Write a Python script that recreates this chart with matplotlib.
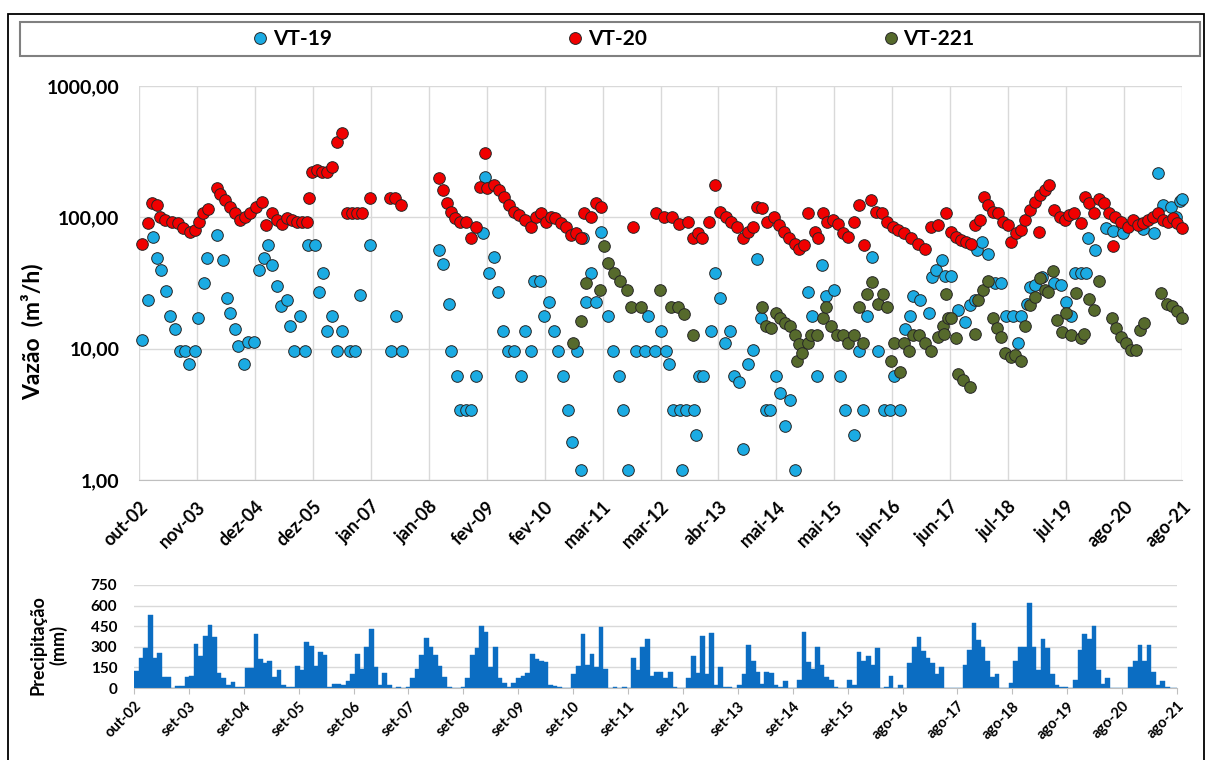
import pandas as pd
import matplotlib
matplotlib.use("Agg")
import matplotlib.pyplot as plt
import matplotlib.dates as mdates
from matplotlib.lines import Line2D
from matplotlib.patches import Rectangle
from matplotlib.ticker import NullLocator

plt.rcParams['font.family'] = ['Lato', 'DejaVu Sans']
plt.rcParams['font.weight'] = 'bold'

## data

# VT-19
vt19_dates = [
    "2002-11-21", "2002-12-27", "2003-01-30", "2003-02-24", "2003-03-24", "2003-04-27", "2003-05-21", "2003-06-24", "2003-07-27", "2003-08-30",
    "2003-09-24", "2003-11-03", "2003-11-21", "2003-12-30", "2004-01-21", "2004-03-24", "2004-05-03", "2004-05-30", "2004-06-21", "2004-07-21",
    "2004-08-15", "2004-09-18", "2004-10-18", "2004-11-24", "2004-12-27", "2005-01-30", "2005-02-27", "2005-03-27", "2005-04-27", "2005-05-24",
    "2005-06-30", "2005-07-21", "2005-08-15", "2005-09-24", "2005-10-30", "2005-11-15", "2005-12-30", "2006-01-27", "2006-02-24", "2006-03-21",
    "2006-04-24", "2006-05-27", "2006-06-30", "2006-08-18", "2006-09-24", "2006-10-24", "2006-12-30", "2007-05-21", "2007-06-21", "2007-07-30",
    "2008-03-27", "2008-04-27", "2008-06-03", "2008-06-18", "2008-07-24", "2008-08-18", "2008-09-21", "2008-10-24", "2008-11-27", "2009-01-12",
    "2009-01-30", "2009-02-24", "2009-03-27", "2009-04-24", "2009-05-27", "2009-06-27", "2009-08-06", "2009-09-24", "2009-10-21", "2009-11-27",
    "2009-12-15", "2010-01-24", "2010-02-21", "2010-03-24", "2010-04-27", "2010-05-24", "2010-06-27", "2010-07-27", "2010-08-24", "2010-09-24",
    "2010-10-21", "2010-11-03", "2010-11-24", "2010-12-27", "2011-01-30", "2011-02-28", "2011-04-21", "2011-05-24", "2011-06-27", "2011-07-24",
    "2011-08-30", "2011-10-18", "2011-12-15", "2012-01-06", "2012-02-21", "2012-04-03", "2012-05-06", "2012-05-24", "2012-06-18", "2012-08-03",
    "2012-08-18", "2012-09-15", "2012-11-03", "2012-11-18", "2012-12-06", "2013-01-03", "2013-02-27", "2013-03-21", "2013-04-27", "2013-05-27",
    "2013-07-03", "2013-07-27", "2013-08-27", "2013-09-21", "2013-10-24", "2013-11-27", "2013-12-27", "2014-01-21", "2014-02-24", "2014-03-24",
    "2014-04-27", "2014-05-27", "2014-06-27", "2014-07-30", "2014-09-03", "2014-11-24", "2014-12-21", "2015-01-24", "2015-02-27", "2015-03-24",
    "2015-05-18", "2015-06-27", "2015-07-27", "2015-09-24", "2015-10-30", "2015-11-21", "2015-12-18", "2016-01-21", "2016-02-29", "2016-04-09",
    "2016-05-21", "2016-06-18", "2016-07-27", "2016-08-24", "2016-09-27", "2016-10-18", "2016-12-03", "2017-01-30", "2017-02-18", "2017-03-21",
    "2017-04-27", "2017-05-15", "2017-06-27", "2017-08-12", "2017-09-24", "2017-10-27", "2017-11-30", "2017-12-12", "2018-01-15", "2018-02-27",
    "2018-04-09", "2018-05-21", "2018-06-27", "2018-08-09", "2018-09-09", "2018-10-03", "2018-11-06", "2018-11-27", "2018-12-30", "2019-02-15",
    "2019-05-09", "2019-06-24", "2019-07-24", "2019-08-27", "2019-09-21", "2019-11-03", "2019-12-06", "2019-12-15", "2020-01-30", "2020-04-15",
    "2020-05-30", "2020-08-06", "2020-10-30", "2020-12-15", "2021-02-21", "2021-03-21", "2021-04-24", "2021-06-18", "2021-07-21", "2021-08-12",
    "2021-08-26",
]
vt19_vals = [
    11.7, 23.5, 71, 49, 40, 27.7, 17.7, 14, 9.6, 9.6,
    7.7, 9.6, 17, 31.5, 49, 74, 47, 24.5, 18.8, 14,
    10.4, 7.7, 11.3, 11.3, 40, 49, 62, 43, 30, 21,
    23.5, 15, 9.6, 17.7, 9.6, 62, 62, 27, 38, 13.6,
    17.7, 9.6, 13.6, 9.6, 9.6, 25.5, 62, 9.6, 17.7, 9.6,
    56.5, 44, 22, 9.6, 6.2, 3.4, 3.4, 3.4, 6.2, 76,
    202, 38, 49.6, 27, 13.6, 9.6, 9.6, 6.2, 13.6, 9.6,
    33, 33, 17.7, 22.5, 13.6, 9.6, 6.2, 3.4, 1.96, 9.6,
    1.19, 69, 22.5, 38, 22.5, 77, 17.7, 9.6, 6.2, 3.4,
    1.19, 9.6, 9.6, 17.7, 9.6, 13.6, 9.6, 7.7, 3.4, 3.4,
    1.19, 3.4, 3.4, 2.2, 6.2, 6.2, 13.6, 38, 24.5, 11,
    13.6, 6.2, 5.6, 1.71, 7.7, 9.8, 48, 17, 3.4, 3.4,
    6.2, 4.6, 2.6, 4.1, 1.19, 27, 17.7, 6.2, 43, 25,
    28, 6.2, 3.4, 2.2, 9.6, 3.4, 17.7, 50, 9.6, 3.4,
    3.4, 6.2, 3.4, 14, 17.7, 25, 23.5, 18.8, 35, 40,
    47, 36, 36, 19.7, 16, 21.5, 23.5, 56, 65, 53,
    31.5, 31.5, 17.7, 17.7, 11, 17.7, 22, 29.6, 30.4, 35,
    31.5, 30.4, 22.5, 17.7, 38, 38, 38, 69, 56, 83,
    79, 76, 90, 82, 76, 217, 125, 120, 101, 132,
    137,
]

# VT-20
vt20_dates = [
    "2002-11-21", "2002-12-27", "2003-01-21", "2003-02-24", "2003-03-15", "2003-04-18", "2003-06-03", "2003-07-15", "2003-08-15", "2003-10-03",
    "2003-11-03", "2003-11-27", "2003-12-24", "2004-01-27", "2004-03-24", "2004-04-15", "2004-05-21", "2004-06-21", "2004-07-24", "2004-08-27",
    "2004-10-01", "2004-11-03", "2004-12-09", "2005-01-18", "2005-02-15", "2005-03-24", "2005-04-27", "2005-05-30", "2005-06-30", "2005-08-03",
    "2005-09-06", "2005-10-09", "2005-11-12", "2005-11-27", "2005-12-12", "2006-01-15", "2006-02-18", "2006-03-21", "2006-04-24", "2006-05-27",
    "2006-06-30", "2006-07-30", "2006-09-03", "2006-10-06", "2006-11-09", "2006-12-30", "2007-05-15", "2007-06-15", "2007-07-24",
    "2008-03-27", "2008-04-27", "2008-05-21", "2008-06-15", "2008-07-15", "2008-08-18", "2008-09-21", "2008-10-24", "2008-11-27", "2008-12-24",
    "2009-01-30", "2009-02-12", "2009-03-27", "2009-04-27", "2009-05-30", "2009-07-03", "2009-08-06", "2009-09-09", "2009-10-15", "2009-11-24",
    "2009-12-27", "2010-01-30", "2010-03-03", "2010-04-06", "2010-05-06", "2010-06-09", "2010-07-12", "2010-08-15", "2010-09-18", "2010-10-21",
    "2010-11-12", "2010-12-24", "2011-01-27", "2011-02-28", "2011-09-27",
    "2012-02-27", "2012-04-24", "2012-06-15", "2012-07-30", "2012-09-24", "2012-10-27", "2012-11-30", "2012-12-30",
    "2013-02-15", "2013-03-21", "2013-04-27", "2013-06-03", "2013-07-06", "2013-08-18", "2013-09-21", "2013-10-24", "2013-11-27", "2013-12-27",
    "2014-01-30", "2014-03-03", "2014-04-18", "2014-05-21", "2014-06-24", "2014-07-24", "2014-08-30", "2014-09-30", "2014-11-03", "2014-11-24",
    "2015-01-09", "2015-01-30", "2015-03-03", "2015-04-03", "2015-05-09", "2015-06-09", "2015-07-12", "2015-08-15", "2015-09-27", "2015-10-30",
    "2015-12-03", "2016-01-15", "2016-02-18", "2016-03-30", "2016-05-03", "2016-06-06", "2016-07-09", "2016-08-21", "2016-10-06", "2016-11-18",
    "2017-01-03", "2017-02-15", "2017-03-30", "2017-05-24", "2017-06-27", "2017-07-30", "2017-09-03", "2017-10-06", "2017-11-03", "2017-11-30",
    "2018-01-03", "2018-01-30", "2018-02-27", "2018-03-30", "2018-05-03", "2018-06-03", "2018-07-09", "2018-07-27", "2018-08-30", "2018-10-03",
    "2018-10-24", "2018-11-27", "2018-12-30", "2019-01-27", "2019-02-03", "2019-03-06", "2019-04-06", "2019-05-09", "2019-06-12", "2019-07-15",
    "2019-08-15", "2019-09-15", "2019-10-30", "2019-11-24", "2019-12-24", "2020-01-27", "2020-02-29", "2020-04-03", "2020-05-06", "2020-05-27",
    "2020-06-09", "2020-07-21", "2020-09-06", "2020-10-09", "2020-11-09", "2020-12-12", "2021-01-15", "2021-02-18", "2021-03-21", "2021-04-21",
    "2021-05-27", "2021-06-30", "2021-07-28", "2021-08-25",
]
vt20_vals = [
    63, 90, 128, 125, 101, 95, 92, 90, 83, 78,
    80, 92, 108, 115, 166, 150, 135, 120, 108, 95,
    101, 108, 120, 130, 87, 108, 95, 89, 98, 95,
    92, 92, 92, 141, 222, 230, 222, 222, 240, 377,
    437, 108, 108, 108, 108, 141, 141, 140, 125,
    198, 162, 128, 110, 98, 92, 92, 69, 85, 171,
    311, 167, 176, 162, 144, 125, 110, 104, 95, 85,
    101, 108, 92, 101, 98, 90, 85, 73, 76, 69,
    108, 101, 128, 120, 84,
    108, 101, 101, 89, 92, 69, 76, 70,
    92, 177, 110, 101, 92, 85, 69, 78, 85, 120,
    117, 92, 101, 87, 78, 69, 63, 57, 62, 108,
    78, 69, 108, 92, 95, 89, 76, 71, 92, 125,
    62, 135, 110, 108, 92, 85, 80, 76, 69, 63,
    57, 85, 87, 108, 78, 71, 67, 65, 63, 87,
    95, 144, 125, 110, 108, 92, 87, 65, 76, 80,
    95, 113, 130, 78, 148, 162, 177, 113, 101, 95,
    104, 108, 90, 144, 128, 108, 138, 128, 108, 60,
    101, 92, 85, 95, 87, 90, 95, 101, 108, 95,
    92, 98, 90, 83,
]

# VT-221
vt221_dates = [
    "2010-08-27", "2010-10-21", "2010-11-24", "2011-02-24", "2011-03-24", "2011-04-15", "2011-05-27", "2011-07-09", "2011-08-24", "2011-09-15",
    "2011-11-21", "2012-03-27", "2012-06-09", "2012-07-24", "2012-08-30", "2012-10-30", "2014-01-24", "2014-02-24", "2014-03-27", "2014-04-27",
    "2014-05-27", "2014-06-27", "2014-07-30", "2014-09-03", "2014-09-18", "2014-09-30", "2014-10-21", "2014-11-24", "2014-12-15", "2015-01-24",
    "2015-03-03", "2015-03-24", "2015-04-27", "2015-06-06", "2015-07-12", "2015-08-15", "2015-09-27", "2015-10-30", "2015-11-21", "2015-12-21",
    "2016-01-21", "2016-02-29", "2016-04-03", "2016-05-03", "2016-05-27", "2016-06-15", "2016-07-24", "2016-08-21", "2016-09-24", "2016-10-21",
    "2016-11-30", "2017-01-03", "2017-02-15", "2017-03-30", "2017-05-03", "2017-05-09", "2017-05-24", "2017-06-06", "2017-06-27", "2017-07-30",
    "2017-08-12", "2017-09-15", "2017-10-27", "2017-11-30", "2017-12-21", "2018-01-24", "2018-02-27", "2018-03-30", "2018-04-27", "2018-05-21",
    "2018-06-18", "2018-07-24", "2018-08-24", "2018-10-03", "2018-10-24", "2018-11-27", "2019-01-03", "2019-02-06", "2019-03-06", "2019-03-30",
    "2019-04-27", "2019-05-27", "2019-06-27", "2019-07-24", "2019-08-27", "2019-09-30", "2019-10-30", "2019-11-21", "2019-12-24", "2020-01-27",
    "2020-02-29", "2020-05-24", "2020-06-18", "2020-07-21", "2020-08-24", "2020-09-27", "2020-10-27", "2020-11-21", "2020-12-21", "2021-04-09",
    "2021-05-21", "2021-06-24", "2021-07-27", "2021-08-25",
]
vt221_vals = [
    11, 16.3, 31.5, 28, 60.6, 45, 37.5, 32.5, 28, 20.7,
    20.7, 28, 20.7, 20.7, 18.5, 12.7, 20.7, 14.9, 14.3, 18.7,
    17, 15.8, 14.9, 12.7, 8, 10.8, 9.2, 11, 12.7, 12.7,
    17, 20.7, 14.9, 12.7, 12.7, 11, 12.7, 20.7, 11, 26,
    32, 22, 26, 20.7, 8, 11, 6.7, 11, 9.6, 12.7,
    12.7, 11, 9.6, 12.3, 14.9, 13, 26, 17, 17, 12,
    6.4, 5.8, 5.1, 13, 23.5, 28, 32.5, 17, 14.3, 12.3,
    9.2, 8.6, 9, 8, 14.9, 21.5, 24.8, 34.5, 28, 27,
    39, 16.5, 13.5, 18.6, 12.7, 26.4, 12, 13, 24, 19.7,
    32.5, 17, 14.3, 12.3, 11, 9.8, 9.8, 13.8, 15.6, 26.6,
    22, 21, 19.2, 17,
]

# monthly rainfall (mm), one row per hydrological year oct..sep, from oct-2002
precip = [
    125, 215, 290, 535, 215, 255, 80, 80, 0, 15, 15, 80,
    85, 320, 230, 380, 460, 370, 110, 70, 20, 45, 10, 5,
    145, 145, 395, 210, 180, 200, 80, 130, 20, 10, 5, 160,
    130, 335, 305, 160, 260, 240, 10, 30, 30, 20, 50, 100,
    245, 140, 300, 430, 155, 20, 110, 20, 0, 10, 0, 10,
    70, 140, 240, 365, 300, 240, 160, 80, 10, 0, 0, 10,
    70, 240, 290, 455, 410, 150, 300, 70, 40, 10, 40, 70,
    90, 110, 250, 210, 200, 190, 20, 15, 5, 0, 0, 100,
    160, 390, 170, 250, 150, 445, 140, 0, 10, 0, 10, 0,
    220, 130, 300, 360, 90, 120, 120, 75, 120, 10, 0, 0,
    70, 230, 110, 380, 100, 400, 20, 150, 10, 5, 0, 20,
    100, 310, 200, 120, 30, 120, 110, 20, 10, 50, 0, 0,
    60, 410, 190, 140, 300, 165, 80, 55, 10, 0, 0, 55,
    20, 260, 200, 230, 170, 290, 0, 10, 90, 0, 20, 0,
    180, 300, 370, 270, 220, 180, 100, 150, 0, 0, 0, 0,
    170, 280, 470, 350, 300, 200, 80, 100, 0, 0, 40, 200,
    300, 300, 620, 300, 130, 360, 290, 100, 20, 5, 5, 0,
    60, 275, 390, 360, 450, 130, 30, 70, 0, 0, 0, 0,
    150, 200, 310, 200, 315, 120, 20, 50, 5, 0, 0,
]

top_ticklabels = ["out-02", "nov-03", "dez-04", "dez-05", "jan-07", "jan-08", "fev-09", "fev-10", "mar-11", "mar-12",
                  "abr-13", "mai-14", "mai-15", "jun-16", "jun-17", "jul-18", "jul-19", "ago-20", "ago-21"]
bottom_ticklabels = ["out-02", "set-03", "set-04", "set-05", "set-06", "set-07", "set-08", "set-09", "set-10", "set-11",
                     "set-12", "set-13", "set-14", "set-15", "ago-16", "ago-17", "ago-18", "ago-19", "ago-20", "ago-21"]
flow_ticks = [1, 10, 100, 1000]
flow_ticklabels = ["1,00", "10,00", "100,00", "1000,00"]
rain_ticks = [0, 150, 300, 450, 600, 750]

series = [
    ("VT-19", vt19_dates, vt19_vals, "#1BABE3"),
    ("VT-20", vt20_dates, vt20_vals, "#F00000"),
    ("VT-221", vt221_dates, vt221_vals, "#566A2C"),
]


def to_num(dates):
    return mdates.date2num(pd.to_datetime(dates).to_pydatetime())


W, H = 1206, 760
fig = plt.figure(figsize=(W / 100, H / 100), dpi=100)

## flow (log scale)

ax = fig.add_axes([139 / W, 1 - 480 / H, 1043 / W, 394 / H])

for name, d, v, c in series:
    ax.scatter(to_num(d), v, s=70, color=c, edgecolor="#262626", linewidth=0.7,
               zorder=3, clip_on=False, label=name)

ax.set_yscale("log")
ax.set_ylim(1, 1000)
ax.set_yticks(flow_ticks)
ax.set_yticklabels(flow_ticklabels, fontsize=14, fontweight="bold")
ax.yaxis.set_minor_locator(NullLocator())

top_start = pd.Timestamp("2002-10-30")
top_ticks = [top_start + pd.Timedelta(days=382 * i) for i in range(len(top_ticklabels))]
ax.set_xlim(to_num(top_ticks)[0], to_num(top_ticks)[-1])
ax.set_xticks(to_num(top_ticks))
ax.set_xticklabels(top_ticklabels, rotation=45, ha="right", rotation_mode="anchor",
                   fontsize=13, fontweight="bold")

ax.grid(True, color="#D9D9D9", linewidth=1)
ax.set_axisbelow(True)
for side in ["top", "left", "right"]:
    ax.spines[side].set_visible(False)
ax.spines["bottom"].set_color("#BFBFBF")
ax.tick_params(axis="both", length=0)
ax.tick_params(axis="y", pad=14)
ax.tick_params(axis="x", pad=13)

ax.set_ylabel("Vazão  (m³/h)", fontsize=16.5, fontweight="bold")
ax.yaxis.set_label_coords(-0.092, 0.376)

## rainfall bars

ax2 = fig.add_axes([134 / W, 1 - 688 / H, 1043 / W, 103 / H])

months = pd.date_range("2002-10-01", periods=len(precip), freq="MS")
ax2.bar(to_num(months), precip, width=months.days_in_month, align="edge",
        color="#0B6DC2", edgecolor="#0B6DC2", linewidth=0.3, zorder=2)

bot_start = pd.Timestamp("2002-10-01")
bot_ticks = [bot_start + pd.Timedelta(days=363 * i) for i in range(len(bottom_ticklabels))]
ax2.set_xlim(to_num(bot_ticks)[0], to_num(bot_ticks)[-1])
ax2.set_xticks(to_num(bot_ticks))
ax2.set_xticklabels(bottom_ticklabels, rotation=45, ha="right", rotation_mode="anchor",
                    fontsize=10.5, fontweight="bold")
ax2.set_ylim(0, 750)
ax2.set_yticks(rain_ticks)
ax2.set_yticklabels([str(t) for t in rain_ticks], fontsize=11, fontweight="bold")

ax2.grid(axis="y", color="#D9D9D9", linewidth=1)
ax2.set_axisbelow(True)
for side in ["top", "left", "right"]:
    ax2.spines[side].set_visible(False)
ax2.spines["bottom"].set_color("#BFBFBF")
ax2.tick_params(axis="y", length=0, pad=12)
ax2.tick_params(axis="x", length=4, color="#BFBFBF", pad=4)

ax2.set_ylabel("Precipitação\n(mm)", fontsize=13, fontweight="bold", linespacing=1.15)
ax2.yaxis.set_label_coords(-0.064, 0.42)

## legend and frames

handles = [Line2D([], [], ls="", marker="o", markersize=8.5, markerfacecolor=c,
                  markeredgecolor="#262626", markeredgewidth=0.7) for _, _, _, c in series]
fig.legend(handles, [s[0] for s in series], loc="center", bbox_to_anchor=(613 / W, 1 - 39 / H),
           ncol=3, frameon=False, prop={"size": 15, "weight": "bold"},
           handlelength=0.8, handletextpad=0.2, columnspacing=11.3)

fig.patches.append(Rectangle((20 / W, 1 - 56 / H), 1180 / W, 34 / H, transform=fig.transFigure,
                             fill=False, edgecolor="#808080", linewidth=1.5))
fig.patches.append(Rectangle((8 / W, -0.01), 1196 / W, 1 - 14 / H + 0.01, transform=fig.transFigure,
                             fill=False, edgecolor="black", linewidth=1.3))

fig.savefig("out.png", dpi=100)
